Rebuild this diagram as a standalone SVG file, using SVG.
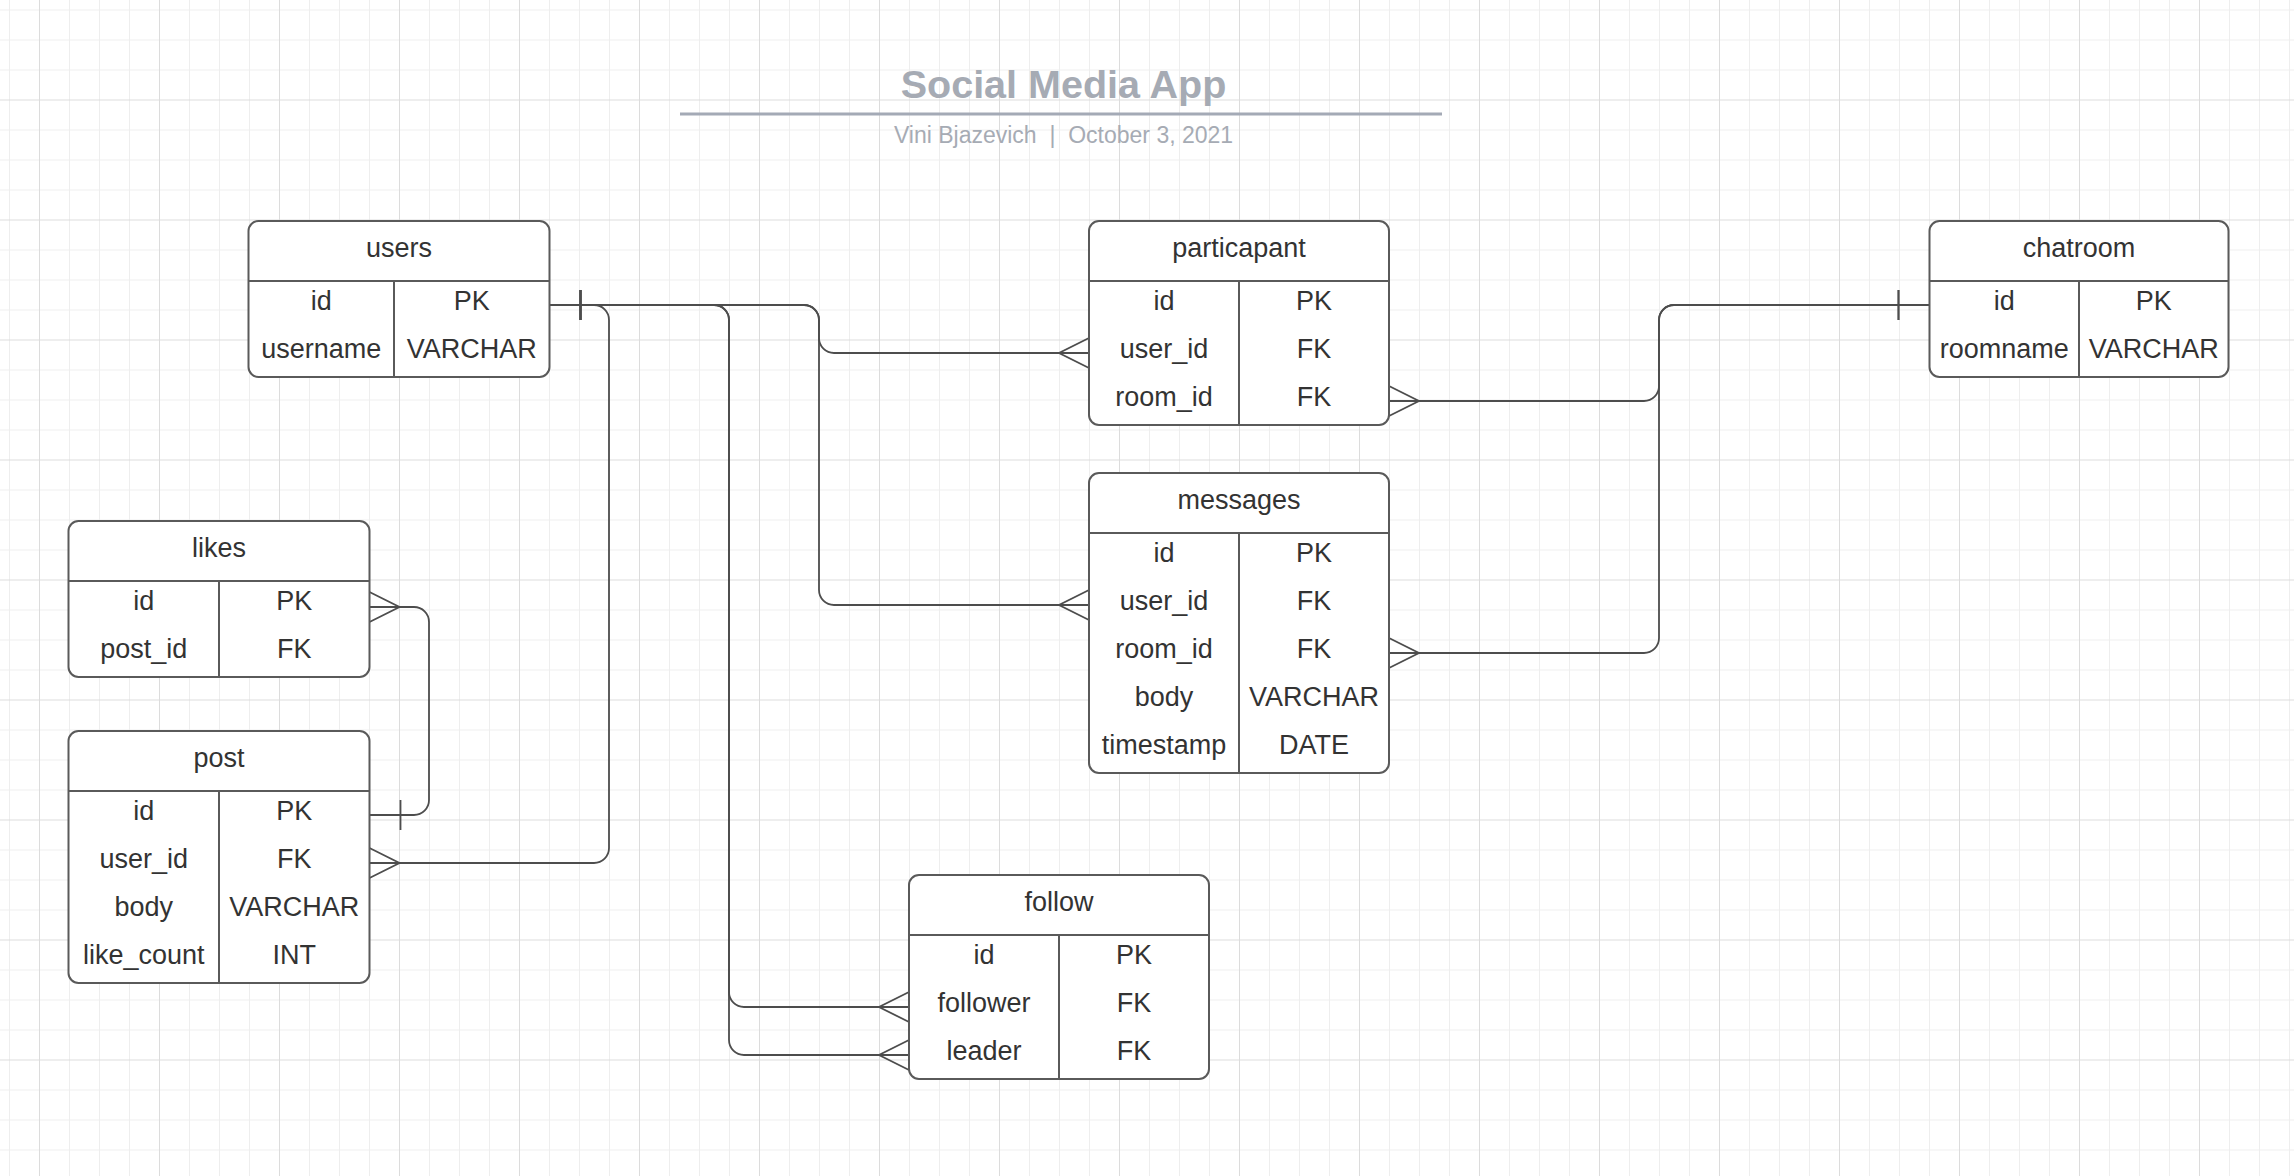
<svg xmlns="http://www.w3.org/2000/svg" width="2294" height="1176" viewBox="0 0 2294 1176">
<style>
.box{fill:#ffffff;stroke:#5a5a5a;stroke-width:2}
.div{stroke:#5a5a5a;stroke-width:2;fill:none}
.t{font-family:"Liberation Sans",Arial,sans-serif;font-size:27px;fill:#333333;text-anchor:middle}
.c{fill:none;stroke:#4d4d4d;stroke-width:1.8}
.mk{fill:none;stroke:#4d4d4d;stroke-width:1.8}
.title{font-family:"Liberation Sans",Arial,sans-serif;font-size:39.5px;font-weight:bold;fill:#a6abb4;text-anchor:middle}
.sub{font-family:"Liberation Sans",Arial,sans-serif;font-size:23px;fill:#a6abb4;text-anchor:middle}
</style>
<defs>
<pattern id="grid" patternUnits="userSpaceOnUse" width="120" height="120" patternTransform="translate(39,99.5)">
<path d="M30.5,0V120M60.5,0V120M90.5,0V120M0,30.5H120M0,60.5H120M0,90.5H120" stroke="#eeeeee" stroke-width="1" fill="none"/>
<path d="M0.5,0V120M0,0.5H120" stroke="#dcdcdc" stroke-width="1" fill="none"/>
</pattern>
<marker id="many" markerUnits="userSpaceOnUse" orient="auto" refX="0" refY="0" markerWidth="1" markerHeight="1" style="overflow:visible"><path class="mk" d="M0,-15L-30,0L0,15"/></marker>
<marker id="one" markerUnits="userSpaceOnUse" orient="auto" refX="0" refY="0" markerWidth="1" markerHeight="1" style="overflow:visible"><path class="mk" d="M31,-15V15"/></marker>
</defs>
<rect x="0" y="0" width="2294" height="1176" fill="#ffffff"/>
<rect x="0" y="0" width="2294" height="1176" fill="url(#grid)"/>

<g id="title">
<text class="title" x="1063.5" y="98">Social Media App</text>
<line x1="680" y1="114" x2="1442" y2="114" stroke="#a4aab6" stroke-width="3"/>
<text class="sub" x="1063.5" y="143">Vini Bjazevich&#160;&#160;|&#160;&#160;October 3, 2021</text>
</g>

<g id="connectors">
<path class="c" marker-start="url(#one)" marker-end="url(#many)" d="M549.5,305H594A15,15 0 0 1 609,320V848A15,15 0 0 1 594,863H369.5"/>
<path class="c" marker-start="url(#one)" marker-end="url(#many)" d="M549.5,305H714A15,15 0 0 1 729,320V992A15,15 0 0 0 744,1007H909"/>
<path class="c" marker-start="url(#one)" marker-end="url(#many)" d="M549.5,305H714A15,15 0 0 1 729,320V1040A15,15 0 0 0 744,1055H909"/>
<path class="c" marker-start="url(#one)" marker-end="url(#many)" d="M549.5,305H804A15,15 0 0 1 819,320V338A15,15 0 0 0 834,353H1089"/>
<path class="c" marker-start="url(#one)" marker-end="url(#many)" d="M549.5,305H804A15,15 0 0 1 819,320V590A15,15 0 0 0 834,605H1089"/>
<path class="c" marker-start="url(#one)" marker-end="url(#many)" d="M1929.5,305H1674A15,15 0 0 0 1659,320V386A15,15 0 0 1 1644,401H1389"/>
<path class="c" marker-start="url(#one)" marker-end="url(#many)" d="M1929.5,305H1674A15,15 0 0 0 1659,320V638A15,15 0 0 1 1644,653H1389"/>
<path class="c" marker-start="url(#one)" marker-end="url(#many)" d="M369.5,815H414A15,15 0 0 0 429,800V622A15,15 0 0 0 414,607H369.5"/>
</g>

<g id="users">
<rect class="box" x="248.5" y="221" width="301" height="156" rx="10"/>
<path class="div" d="M248.5,281H549.5M394,281V377"/>
<text class="t" x="399" y="257">users</text>
<text class="t" x="321.25" y="310">id</text><text class="t" x="471.75" y="310">PK</text>
<text class="t" x="321.25" y="358">username</text><text class="t" x="471.75" y="358">VARCHAR</text>
</g>

<g id="likes">
<rect class="box" x="68.5" y="521" width="301" height="156" rx="10"/>
<path class="div" d="M68.5,581H369.5M219,581V677"/>
<text class="t" x="219" y="557">likes</text>
<text class="t" x="143.75" y="610">id</text><text class="t" x="294.25" y="610">PK</text>
<text class="t" x="143.75" y="658">post_id</text><text class="t" x="294.25" y="658">FK</text>
</g>

<g id="post">
<rect class="box" x="68.5" y="731" width="301" height="252" rx="10"/>
<path class="div" d="M68.5,791H369.5M219,791V983"/>
<text class="t" x="219" y="767">post</text>
<text class="t" x="143.75" y="820">id</text><text class="t" x="294.25" y="820">PK</text>
<text class="t" x="143.75" y="868">user_id</text><text class="t" x="294.25" y="868">FK</text>
<text class="t" x="143.75" y="916">body</text><text class="t" x="294.25" y="916">VARCHAR</text>
<text class="t" x="143.75" y="964">like_count</text><text class="t" x="294.25" y="964">INT</text>
</g>

<g id="particapant">
<rect class="box" x="1089" y="221" width="300" height="204" rx="10"/>
<path class="div" d="M1089,281H1389M1239,281V425"/>
<text class="t" x="1239" y="257">particapant</text>
<text class="t" x="1164" y="310">id</text><text class="t" x="1314" y="310">PK</text>
<text class="t" x="1164" y="358">user_id</text><text class="t" x="1314" y="358">FK</text>
<text class="t" x="1164" y="406">room_id</text><text class="t" x="1314" y="406">FK</text>
</g>

<g id="messages">
<rect class="box" x="1089" y="473" width="300" height="300" rx="10"/>
<path class="div" d="M1089,533H1389M1239,533V773"/>
<text class="t" x="1239" y="509">messages</text>
<text class="t" x="1164" y="562">id</text><text class="t" x="1314" y="562">PK</text>
<text class="t" x="1164" y="610">user_id</text><text class="t" x="1314" y="610">FK</text>
<text class="t" x="1164" y="658">room_id</text><text class="t" x="1314" y="658">FK</text>
<text class="t" x="1164" y="706">body</text><text class="t" x="1314" y="706">VARCHAR</text>
<text class="t" x="1164" y="754">timestamp</text><text class="t" x="1314" y="754">DATE</text>
</g>

<g id="chatroom">
<rect class="box" x="1929.5" y="221" width="299" height="156" rx="10"/>
<path class="div" d="M1929.5,281H2228.5M2079,281V377"/>
<text class="t" x="2079" y="257">chatroom</text>
<text class="t" x="2004.25" y="310">id</text><text class="t" x="2153.75" y="310">PK</text>
<text class="t" x="2004.25" y="358">roomname</text><text class="t" x="2153.75" y="358">VARCHAR</text>
</g>

<g id="follow">
<rect class="box" x="909" y="875" width="300" height="204" rx="10"/>
<path class="div" d="M909,935H1209M1059,935V1079"/>
<text class="t" x="1059" y="911">follow</text>
<text class="t" x="984" y="964">id</text><text class="t" x="1134" y="964">PK</text>
<text class="t" x="984" y="1012">follower</text><text class="t" x="1134" y="1012">FK</text>
<text class="t" x="984" y="1060">leader</text><text class="t" x="1134" y="1060">FK</text>
</g>
</svg>
